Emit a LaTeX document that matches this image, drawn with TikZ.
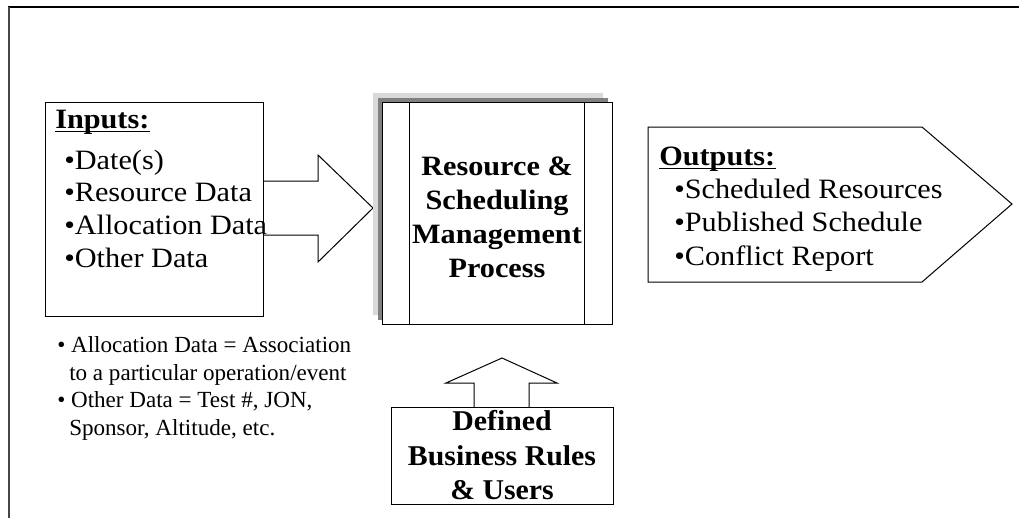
\documentclass[tikz,border=0pt]{standalone}
\usepackage{fontspec}
\setmainfont{Liberation Serif}
\newfontfamily\wide[FakeStretch=1.08]{Liberation Serif}
\newfontfamily\wider[FakeStretch=1.04]{Liberation Serif}
\begin{document}
\begin{tikzpicture}[x=0.75pt,y=-0.75pt,
  txt/.style={anchor=base west,inner sep=0pt,font=\wide\fontsize{21}{25}\selectfont},
  ttl/.style={anchor=base west,inner sep=0pt,font=\wide\fontsize{21}{25}\selectfont\bfseries},
  note/.style={anchor=base west,inner sep=0pt,font=\fontsize{17.3}{20}\selectfont},
  ctr/.style={anchor=base,inner sep=0pt,font=\wide\fontsize{21}{25}\selectfont\bfseries},
  ctrb/.style={anchor=base,inner sep=0pt,font=\wider\fontsize{21.5}{25}\selectfont\bfseries},
  outline/.style={draw=black,line width=0.75pt,line join=miter},
  uline/.style={line width=1.1pt},
]
\useasboundingbox (0,0) rectangle (1019,518);
\fill[white] (0,0) rectangle (1019,518);
% frame
\draw[black,line width=1.5pt] (8,7) -- (1019,7);
\draw[black!72,line width=1.6pt] (9,7) -- (9,518);

% input box and arrow
\draw[outline] (45,102) rectangle (263,316);
\draw[outline] (263,181) -- (318,181) -- (318,155) -- (373,208) -- (318,262) -- (318,235) -- (263,235);

% process box with shadow
\fill[black!15] (373,93) rectangle (603,315);
\fill[black!50] (378,98) rectangle (608,320);
\draw[outline,fill=white] (382,102) rectangle (612,324);
\draw[outline] (409,102) -- (409,324);
\draw[outline] (584,102) -- (584,324);

% output pentagon
\draw[outline] (648,127) -- (922,127) -- (1012,204) -- (922,282) -- (648,282) -- cycle;

% bottom box and arrow
\draw[outline] (391,407) rectangle (613,504);
\draw[outline] (474,407) -- (474,383) -- (446,383) -- (502,358) -- (557,383) -- (529,383) -- (529,407);

% inputs text
\node[ttl] (inT) at (55,128) {Inputs:};
\draw[uline] ([yshift=-2.6pt]inT.base west) -- ([yshift=-2.6pt]inT.base east);
\node[txt] (i1) at (64,169) {•Date(s)};
\node[txt] (i2) at (64,201) {•Resource Data};
\node[txt] (i3) at (64,234) {•Allocation Data};
\node[txt] (i4) at (64,267) {•Other Data};

% outputs text
\node[ttl] (outT) at (659,165) {Outputs:};
\draw[uline] ([yshift=-2.6pt]outT.base west) -- ([yshift=-2.6pt]outT.base east);
\node[txt] (o1) at (674,198) {•Scheduled Resources};
\node[txt] (o2) at (674,231) {•Published Schedule};
\node[txt] (o3) at (674,265) {•Conflict Report};

% process text
\node[ctr] (p1) at (497,175) {Resource \&};
\node[ctr] (p2) at (497,209) {Scheduling};
\node[ctr] (p3) at (497,243) {Management};
\node[ctr] (p4) at (497,277) {Process};

% bottom text
\node[ctrb] (b1) at (502,430) {Defined};
\node[ctrb] (b2) at (502,465) {Business Rules};
\node[ctrb] (b3) at (502,499) {\& Users};

% notes
\node[note] (n1) at (57,352) {• Allocation Data = Association};
\node[note] (n2) at (69,380) {to a particular operation/event};
\node[note] (n3) at (57,407) {• Other Data = Test \#, JON,};
\node[note] (n4) at (69,435) {Sponsor, Altitude, etc.};
\end{tikzpicture}
\end{document}
